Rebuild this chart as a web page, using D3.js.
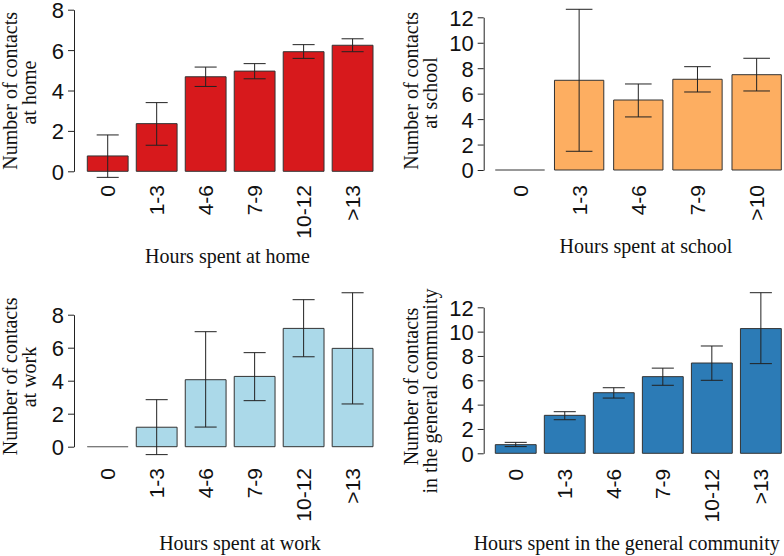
<!DOCTYPE html>
<html><head><meta charset="utf-8">
<script src="https://cdn.jsdelivr.net/npm/d3@7/dist/d3.min.js"></script>
<style>
body{margin:0;background:#fff;}
svg{display:block;}
</style></head>
<body>
<svg id="c" width="784" height="556"></svg>
<script>
// ---- data ----
const homeCats = ["0","1-3","4-6","7-9","10-12",">13"];
const homeMean = [0.76, 2.36, 4.68, 4.96, 5.92, 6.24];
const homeLow  = [-0.3, 1.29, 4.2, 4.58, 5.59, 5.92];
const homeHigh = [1.8, 3.4, 5.16, 5.33, 6.27, 6.56];
const homeTicks = [0,2,4,6,8];

const schoolCats = ["0","1-3","4-6","7-9",">10"];
const schoolMean = [0, 7.05, 5.5, 7.13, 7.49];
const schoolLow  = [null, 1.47, 4.17, 6.13, 6.21];
const schoolHigh = [null, 12.63, 6.76, 8.12, 8.78];
const schoolTicks = [0,2,4,6,8,10,12];

const workCats = ["0","1-3","4-6","7-9","10-12",">13"];
const workMean = [0, 1.18, 4.06, 4.26, 7.17, 5.96];
const workLow  = [null, -0.48, 1.19, 2.79, 5.45, 2.59];
const workHigh = [null, 2.85, 6.97, 5.7, 8.91, 9.33];
const workTicks = [0,2,4,6,8];

const commCats = ["0","1-3","4-6","7-9","10-12",">13"];
const commMean = [0.71, 3.12, 4.98, 6.3, 7.42, 10.25];
const commLow  = [0.55, 2.76, 4.54, 5.59, 6.0, 7.37];
const commHigh = [0.9, 3.42, 5.39, 7.0, 8.82, 13.2];
const commTicks = [0,2,4,6,8,10,12];

// ---- panel layout ----
const panels = [
  {cats:homeCats, mean:homeMean, low:homeLow, high:homeHigh, ticks:homeTicks, color:"#D7191C",
   axisX:74, y0:171.3, yTop:9.7, xL:87.3, xR:373, labY:185,
   xt:"Hours spent at home", xtX:227.5, xtY:263,
   yt:["Number of contacts","at home"], ytX:[16.7,36], ytY:[90.8,92.6]},
  {cats:schoolCats, mean:schoolMean, low:schoolLow, high:schoolHigh, ticks:schoolTicks, color:"#FDAE61",
   axisX:483.7, y0:170, yTop:17.3, xL:495.3, xR:781.3, labY:185,
   xt:"Hours spent at school", xtX:646, xtY:253.3,
   yt:["Number of contacts","at school"], ytX:[418.3,436.7], ytY:[90.8,93]},
  {cats:workCats, mean:workMean, low:workLow, high:workHigh, ticks:workTicks, color:"#ABD9E9",
   axisX:74, y0:446.7, yTop:314.7, xL:87.3, xR:373, labY:468,
   xt:"Hours spent at work", xtX:240, xtY:549.7,
   yt:["Number of contacts","at work"], ytX:[16.7,36], ytY:[376.3,377]},
  {cats:commCats, mean:commMean, low:commLow, high:commHigh, ticks:commTicks, color:"#2C7BB6",
   axisX:483.7, y0:453.3, yTop:307.3, xL:495.3, xR:781.3, labY:468.7,
   xt:"Hours spent in the general community", xtX:626.7, xtY:549.7,
   yt:["Number of contacts","in the general community"], ytX:[418,436.5], ytY:[386.5,391]}
];

const svg = d3.select("#c");
const sans = "'Liberation Sans', Arial, Helvetica, sans-serif";
const serif = "'Liberation Serif', 'Times New Roman', serif";

panels.forEach(p => {
  const g = svg.append("g");
  const tmax = p.ticks[p.ticks.length-1];
  const y = d3.scaleLinear().domain([0, tmax]).range([p.y0, p.yTop]);
  const x = d3.scaleBand().domain(p.cats).range([p.xL, p.xR]).paddingInner(1/6).paddingOuter(0);
  const bw = x.bandwidth();

  // bars
  g.selectAll("path.bar").data(p.cats).join("path")
    .attr("class","bar")
    .attr("d", (c,i) => {
      const x0 = x(c), yt = y(p.mean[i]), yb = y(0);
      return `M${x0},${yb}V${yt}H${x0+bw}V${yb}Z`;
    })
    .attr("fill", p.color)
    .attr("stroke", (c,i) => p.mean[i] === 0 ? "#777" : "#333")
    .attr("stroke-width", 1);

  // error bars
  const eb = p.cats.map((c,i) => ({c, lo:p.low[i], hi:p.high[i]})).filter(d => d.lo !== null);
  const cap = bw * 0.27;
  const ge = g.append("g").attr("stroke","#222").attr("stroke-width",1).attr("fill","none");
  eb.forEach(d => {
    const cx = x(d.c) + bw/2;
    ge.append("line").attr("x1",cx).attr("x2",cx).attr("y1",y(d.lo)).attr("y2",y(d.hi));
    ge.append("line").attr("x1",cx-cap).attr("x2",cx+cap).attr("y1",y(d.lo)).attr("y2",y(d.lo));
    ge.append("line").attr("x1",cx-cap).attr("x2",cx+cap).attr("y1",y(d.hi)).attr("y2",y(d.hi));
  });

  // y axis
  const ax = g.append("g").attr("transform",`translate(${p.axisX},0)`)
    .call(d3.axisLeft(y).tickValues(p.ticks).tickFormat(d3.format("d")).tickSize(6).tickSizeOuter(0).tickPadding(4));
  ax.selectAll("path,line").attr("stroke","#222");
  ax.selectAll("text").attr("font-family",sans).attr("font-size","22px").attr("fill","#111").attr("dy","0.36em");

  // x labels (rotated)
  g.selectAll("text.xl").data(p.cats).join("text")
    .attr("class","xl")
    .attr("transform", c => `translate(${x(c)+bw/2},${p.labY}) rotate(-90)`)
    .attr("text-anchor","end")
    .attr("dy","0.36em")
    .attr("font-family",sans).attr("font-size","21px").attr("fill","#111")
    .text(c => c);

  // x title
  g.append("text").attr("x",p.xtX).attr("y",p.xtY).attr("text-anchor","middle")
    .attr("font-family",serif).attr("font-size","20px").attr("fill","#111").text(p.xt);

  // y title (two lines)
  p.yt.forEach((t,i) => {
    g.append("text").attr("transform",`translate(${p.ytX[i]},${p.ytY[i]}) rotate(-90)`)
      .attr("text-anchor","middle")
      .attr("font-family",serif).attr("font-size","20px").attr("fill","#111").text(t);
  });
});
</script>
</body></html>
